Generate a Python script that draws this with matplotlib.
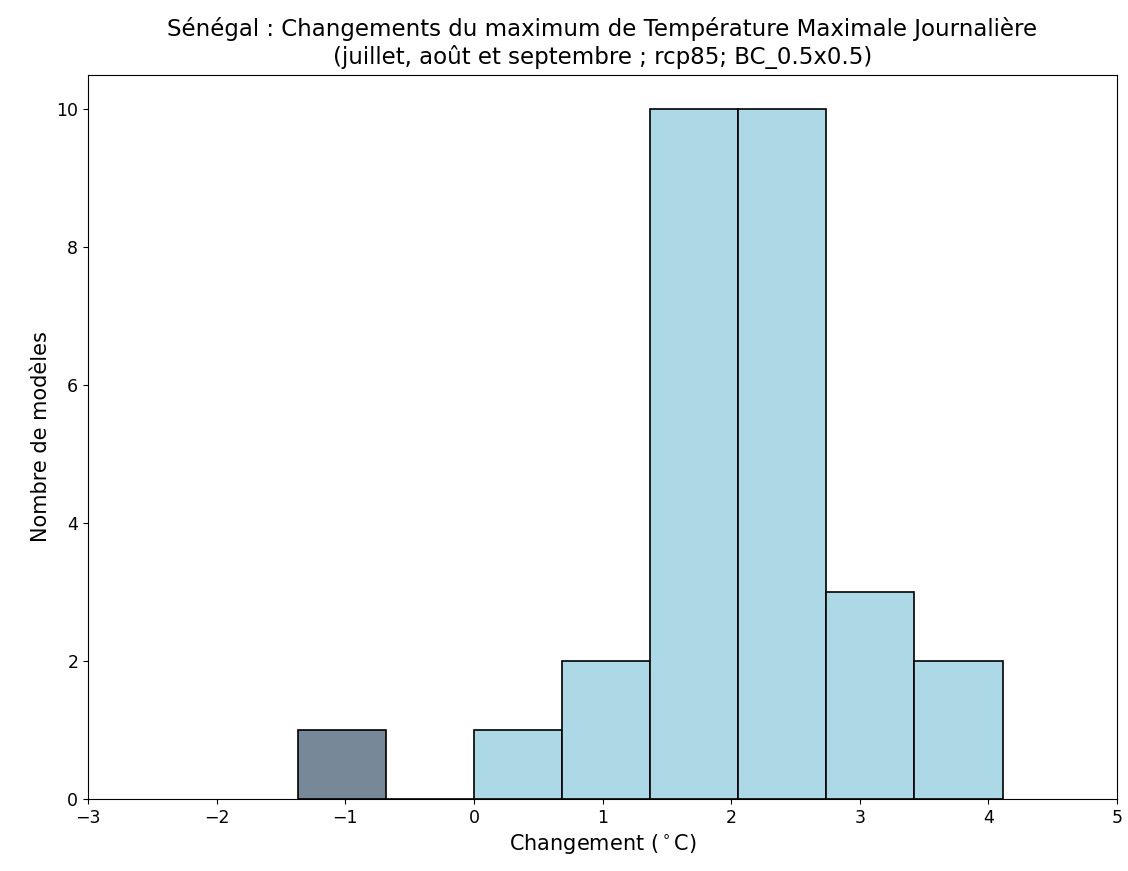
import matplotlib
matplotlib.use("Agg")
import matplotlib.pyplot as plt
import numpy as np

bin_edges = [-1.37, -0.685, 0.0, 0.685, 1.37, 2.055, 2.74, 3.425, 4.11]
counts = [1, 0, 1, 2, 10, 10, 3, 2]
title = "Sénégal : Changements du maximum de Température Maximale Journalière\n(juillet, août et septembre ; rcp85; BC_0.5x0.5)"
xlabel = "Changement ($^\\circ$C)"
ylabel = "Nombre de modèles"

fig = plt.figure(figsize=(11.28, 8.71), dpi=100)
ax = fig.add_axes([88/1128, 1 - 799/871, (1117-88)/1128, (799-75)/871])

edges = np.array(bin_edges)
widths = np.diff(edges)
colors = ["#778899" if e < 0 else "#ADD8E6" for e in edges[:-1]]
ax.bar(edges[:-1], counts, width=widths, align="edge", color=colors,
       edgecolor="black", linewidth=1.2)

ax.set_xlim(-3, 5)
ax.set_ylim(0, 10.5)
ax.tick_params(labelsize=12.5)
ax.set_title(title, fontsize=16.5, pad=8)
ax.set_xlabel(xlabel, fontsize=15)
ax.set_ylabel(ylabel, fontsize=15)
fig.savefig("out.png", dpi=100)
